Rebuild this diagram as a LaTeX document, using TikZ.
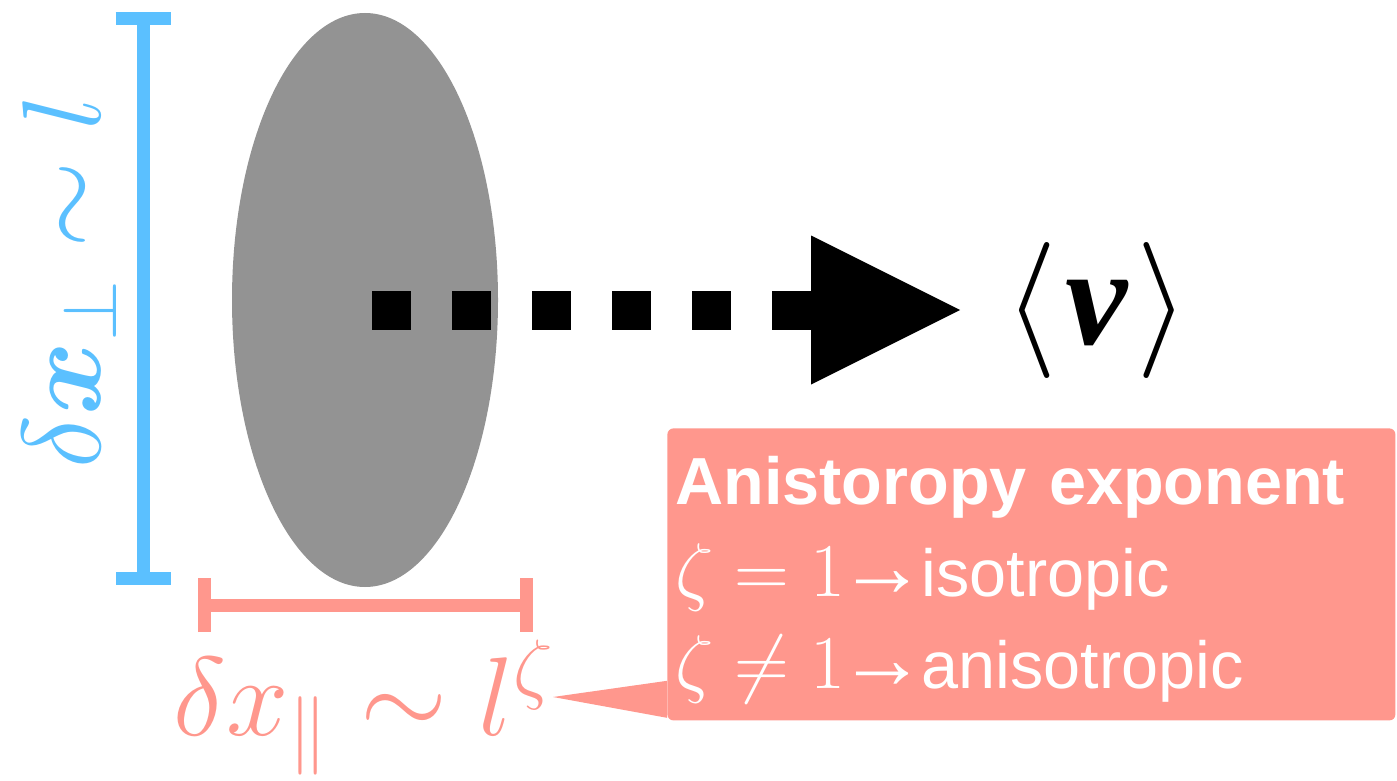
\RequirePackage{fix-cm}
\documentclass[tikz,border=0pt]{standalone}
\usepackage{amsmath,amssymb,bm}
\usepackage{fontspec}
\newfontfamily\boxfont{Liberation Sans}
\newfontfamily\velfont{Liberation Serif}
\usetikzlibrary{arrows.meta, positioning, shapes.geometric}
\definecolor{perpblue}{HTML}{5BC0FF}
\definecolor{parpink}{HTML}{FF978D}
\definecolor{blobgray}{HTML}{939393}
\newcommand{\boxmath}[1]{{\fontsize{38}{46}\selectfont$#1$}}
\newcommand{\boxarrow}{\kern-3.5pt{\fontsize{44}{46}\selectfont→}\kern-2.5pt}

\begin{document}
\begin{tikzpicture}[x=0.5pt, y=-0.5pt, >=Stealth,
    perpbar/.style={draw=perpblue, line width=6.5pt, {Bar[width=27.5pt]}-{Bar[width=27.5pt]}},
    parbar/.style={draw=parpink, line width=6.5pt, {Bar[width=27pt]}-{Bar[width=27pt]}},
    flowline/.style={line width=19.5pt, dash pattern=on 19.5pt off 20.5pt,
      -{Triangle[length=74.5pt, width=74.5pt, line width=0pt]}},
    notebox/.style={fill=parpink, rounded corners=3pt, text=white, align=left,
      text width=356pt, inner xsep=4pt, minimum height=146pt,
      font=\boxfont\fontsize{33.3}{46}\selectfont}]
  \useasboundingbox (0,0) rectangle (1397,781);
  \node (blob) [ellipse, fill=blobgray, minimum width=133pt, minimum height=287pt,
    inner sep=0pt] at (365,300) {};
  % size bars
  \coordinate (perptop) at (143,12);
  \coordinate (perpbot) at (143,585);
  \draw[perpbar] (perptop) -- (perpbot);
  \coordinate (parleft) at (198,605);
  \coordinate (parright) at (533,605);
  \draw[parbar] (parleft) -- (parright);
  \node (perplabel) [rotate=90, anchor=base, inner sep=0pt, text=perpblue,
    font=\fontsize{56}{60}\selectfont] at (100,282) {$\delta\boldsymbol{x}_\perp\sim l$};
  \node (parlabel) [anchor=base, inner sep=0pt, text=parpink,
    font=\fontsize{56}{60}\selectfont] at (364,735) {$\delta x_\parallel\sim l^\zeta$};
  % mean velocity
  \coordinate (flowstart) at (372,310);
  \node (vel) [inner sep=0pt, font=\fontsize{68}{70}\selectfont] at (1097,310)
    {$\langle\kern4pt\text{\velfont\bfseries\itshape\fontsize{70}{70}\selectfont v\/}\kern4pt\rangle$};
  \draw[flowline, shorten >=22pt] (flowstart) -- (vel.west);
  % exponent note
  \node (note) [notebox, anchor=north west, minimum width=364pt] at (667,428)
    {\rule{0pt}{29pt}\textbf{Anistoropy exponent}\\
     \boxmath{\zeta=1}\boxarrow isotropic\\
     \boxmath{\zeta\neq1}\boxarrow anisotropic};
  \coordinate (ptip) at (553,697);
  \fill[parpink] ([yshift=20pt]note.south west) -- (ptip) -- ([yshift=1.5pt]note.south west) -- cycle;
\end{tikzpicture}
\end{document}
